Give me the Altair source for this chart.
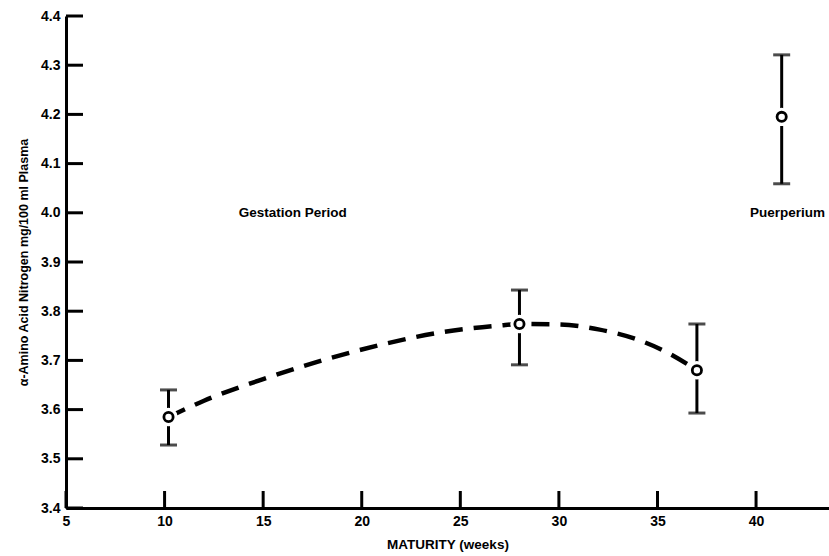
import altair as alt
import pandas as pd

# Data
weeks = [10.2, 28.0, 37.0, 41.3]
means = [3.585, 3.774, 3.680, 4.195]
lower = [3.528, 3.691, 3.593, 4.059]
upper = [3.640, 3.843, 3.774, 4.321]

curve_x = [10.2, 12, 15, 18, 21, 24, 27, 28, 30, 32, 34, 35.5, 37]
curve_y = [3.585, 3.618, 3.662, 3.700, 3.732, 3.757, 3.771, 3.774, 3.773, 3.763, 3.742, 3.716, 3.680]

x_ticks = [5, 10, 15, 20, 25, 30, 35, 40]
y_ticks = [3.4, 3.5, 3.6, 3.7, 3.8, 3.9, 4.0, 4.1, 4.2, 4.3, 4.4]

note_text = ["Gestation Period", "Puerperium"]
note_x = [16.5, 41.6]
note_y = [4.0, 4.0]

FONT = "Liberation Sans"

pts = pd.DataFrame({"w": weeks, "m": means, "lo": lower, "hi": upper})
curve = pd.DataFrame({"w": curve_x, "v": curve_y})
notes = pd.DataFrame({"t": note_text, "w": note_x, "v": note_y})
yt = pd.DataFrame({"v": y_ticks})
xt = pd.DataFrame({"w": x_ticks})

xs = alt.Scale(domain=[5, 43.7], nice=False, zero=False)
ys = alt.Scale(domain=[3.4, 4.4], nice=False, zero=False)

xax = alt.Axis(values=x_ticks, ticks=False, tickSize=0, grid=False, labelFont=FONT,
               labelFontSize=14, labelFontWeight="bold", labelColor="black", labelPadding=6,
               domainColor="black", domainWidth=3, title="MATURITY (weeks)",
               titleFont=FONT, titleFontSize=13.5, titleFontWeight="bold", titleColor="black",
               titlePadding=9, labelFlush=False)
yax = alt.Axis(values=y_ticks, format=".1f", ticks=False, tickSize=0, grid=False, labelFont=FONT,
               labelFontSize=14, labelFontWeight="bold", labelColor="black", labelPadding=6,
               domainColor="black", domainWidth=3,
               title="α-Amino Acid Nitrogen mg/100 ml Plasma",
               titleFont=FONT, titleFontSize=12.5, titleFontWeight="bold", titleColor="black",
               titlePadding=10, labelFlush=False)

base_axes = alt.Chart(curve).mark_point(opacity=0).encode(
    x=alt.X("w:Q", scale=xs, axis=xax),
    y=alt.Y("v:Q", scale=ys, axis=yax),
)

ytick_marks = alt.Chart(yt).mark_rule(color="black", strokeWidth=3).encode(
    y=alt.Y("v:Q", scale=ys), x=alt.value(0), x2=alt.value(17)
)
xtick_marks = alt.Chart(xt).mark_rule(color="black", strokeWidth=3).encode(
    x=alt.X("w:Q", scale=xs), y=alt.value(492), y2=alt.value(475)
)

line = alt.Chart(curve).mark_line(color="black", strokeWidth=4.5, strokeDash=[18, 11],
                                  interpolate="monotone", strokeCap="butt").encode(
    x=alt.X("w:Q", scale=xs), y=alt.Y("v:Q", scale=ys)
)

stems = alt.Chart(pts).mark_rule(color="black", strokeWidth=3).encode(
    x=alt.X("w:Q", scale=xs), y=alt.Y("lo:Q", scale=ys), y2="hi:Q"
)
caps_hi = alt.Chart(pts).mark_tick(color="black", thickness=3, size=17, orient="horizontal").encode(
    x=alt.X("w:Q", scale=xs), y=alt.Y("hi:Q", scale=ys)
)
caps_lo = alt.Chart(pts).mark_tick(color="black", thickness=3, size=17, orient="horizontal").encode(
    x=alt.X("w:Q", scale=xs), y=alt.Y("lo:Q", scale=ys)
)
backing = alt.Chart(pts).mark_point(shape="circle", filled=True, color="white", size=340, opacity=1).encode(
    x=alt.X("w:Q", scale=xs), y=alt.Y("m:Q", scale=ys)
)
circles = alt.Chart(pts).mark_point(shape="circle", filled=False, color="black", strokeWidth=2.8,
                                    size=85, opacity=1, fill="white", fillOpacity=1).encode(
    x=alt.X("w:Q", scale=xs), y=alt.Y("m:Q", scale=ys)
)

texts = alt.Chart(notes).mark_text(font=FONT, fontSize=13.5, fontWeight="bold", color="black",
                                   align="center", baseline="middle").encode(
    x=alt.X("w:Q", scale=xs), y=alt.Y("v:Q", scale=ys), text="t:N"
)

chart = alt.layer(base_axes, ytick_marks, xtick_marks, line, stems, caps_hi, caps_lo,
                  backing, circles, texts).properties(
    width=763, height=492,
    autosize=alt.AutoSizeParams(type="none"),
    padding={"left": 66, "top": 16, "right": 0, "bottom": 48},
    background="white",
).configure_view(stroke=None)

chart.save("out.html", embed_options={"renderer": "svg", "actions": False})
